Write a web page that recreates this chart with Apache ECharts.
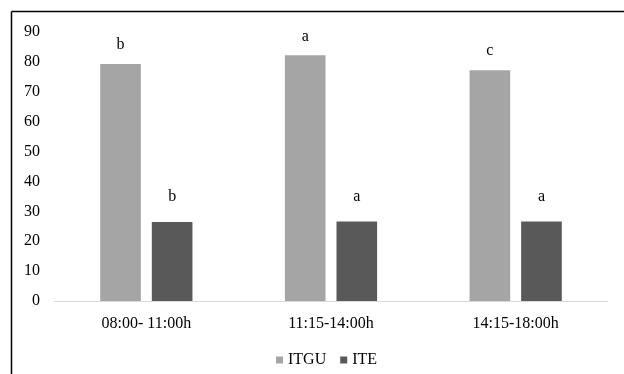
<!DOCTYPE html>
<html><head><meta charset="utf-8">
<script src="https://cdn.jsdelivr.net/npm/echarts@6/dist/echarts.min.js"></script>
<style>html,body{margin:0;padding:0;background:#fff}#c{width:624px;height:374px}</style>
</head><body><div id="c"></div>
<script>
const categories = ['08:00- 11:00h', '11:15-14:00h', '14:15-18:00h'];
const itgu = [79.3, 82.2, 77.2];
const ite = [26.4, 26.6, 26.6];
const itguLetters = ['b', 'a', 'c'];
const iteLetters = ['b', 'a', 'a'];
const yTicks = { min: 0, max: 90, interval: 10 };

const font = 'Liberation Serif';
const chart = echarts.init(document.getElementById('c'));
chart.setOption({
  animation: false,
  textStyle: { fontFamily: font },
  graphic: [
    { type: 'line', shape: { x1: 11.5, y1: 11.5, x2: 624, y2: 11.5 }, style: { stroke: '#000', lineWidth: 1.5 } },
    { type: 'line', shape: { x1: 11.5, y1: 11.5, x2: 11.5, y2: 374 }, style: { stroke: '#000', lineWidth: 1.5 } }
  ],
  grid: { left: 54, right: 16, top: 32, bottom: 73, containLabel: false },
  legend: {
    top: 347, left: 271, itemWidth: 7, itemHeight: 7, itemGap: 14,
    icon: 'rect',
    textStyle: { fontFamily: font, fontSize: 16, color: '#000' },
    data: ['ITGU', 'ITE']
  },
  xAxis: {
    type: 'category', data: categories,
    axisLine: { lineStyle: { color: '#d9d9d9', width: 1 } },
    axisTick: { show: false },
    axisLabel: { fontFamily: font, fontSize: 16, color: '#000', margin: 15 }
  },
  yAxis: {
    type: 'value', min: yTicks.min, max: yTicks.max, interval: yTicks.interval,
    splitLine: { show: false },
    axisLine: { show: false }, axisTick: { show: false },
    axisLabel: { fontFamily: font, fontSize: 16, color: '#000', margin: 14, align: 'right' }
  },
  series: [
    {
      name: 'ITGU', type: 'bar', data: itgu, barWidth: '22%', barGap: '27%',
      itemStyle: { color: '#a5a5a5' },
      label: { show: true, position: 'top', distance: 11, fontFamily: font, fontSize: 16, color: '#000',
        formatter: p => itguLetters[p.dataIndex] }
    },
    {
      name: 'ITE', type: 'bar', data: ite, barWidth: '22%', barGap: '27%',
      itemStyle: { color: '#595959' },
      label: { show: true, position: 'top', distance: 17, fontFamily: font, fontSize: 16, color: '#000',
        formatter: p => iteLetters[p.dataIndex] }
    }
  ]
});
</script></body></html>
